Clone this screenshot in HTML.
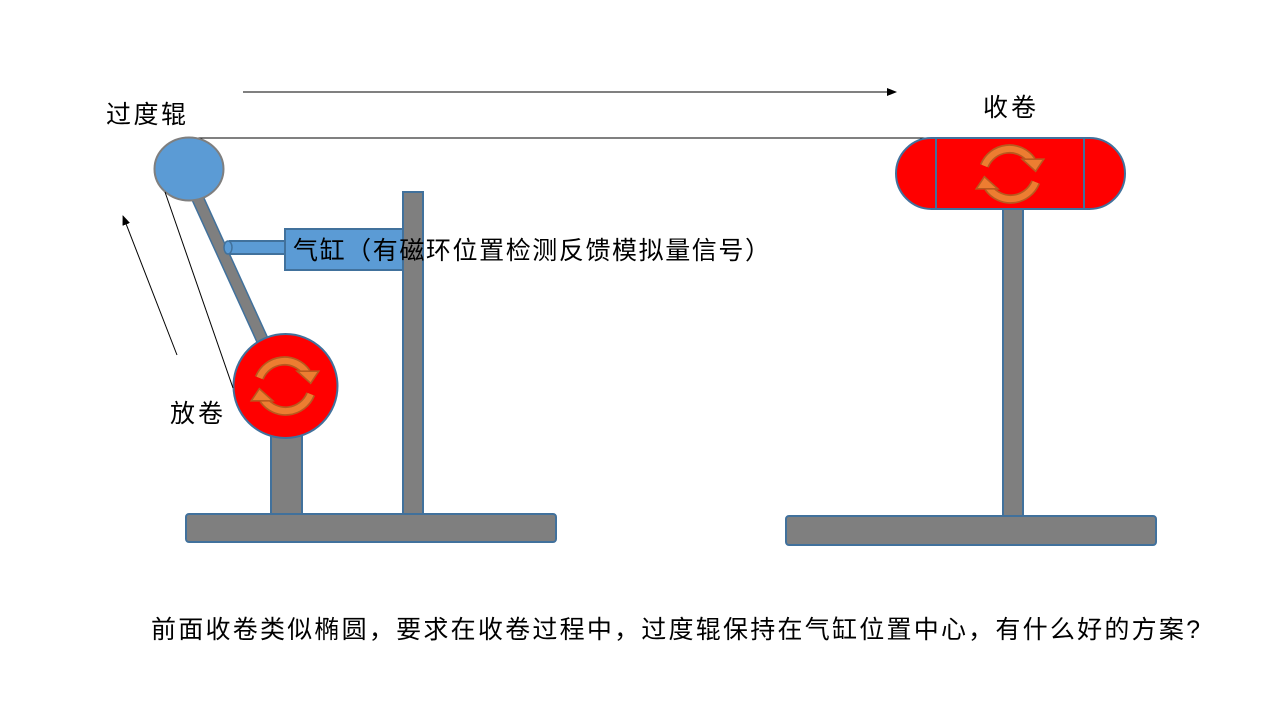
<!DOCTYPE html>
<html><head><meta charset="utf-8"><style>
html,body{margin:0;padding:0;background:#fff;}
svg{display:block;}
text{font-family:"Liberation Sans","Noto Sans CJK SC",sans-serif;font-size:25px;fill:#000;}
</style></head><body>
<svg width="1287" height="718" viewBox="0 0 1287 718" xmlns="http://www.w3.org/2000/svg">
<defs>
<marker id="ah" markerWidth="10" markerHeight="8" refX="9" refY="4" orient="auto" markerUnits="userSpaceOnUse">
<path d="M0,0 L10,4 L0,8 Z" fill="#000"/></marker>
<g id="cyc">
<path d="M-19,-6 A20,20 0 0 1 16,-10" fill="none" stroke="#b85a1f" stroke-width="7"/>
<path d="M-19,-6 A20,20 0 0 1 16,-10" fill="none" stroke="#ed7d31" stroke-width="4.5"/>
<path d="M9,-11 L25,-11 L19,-2 Z" fill="#ed7d31" stroke="#b85a1f" stroke-width="1.2"/>
<path d="M19,6 A20,20 0 0 1 -16,10" fill="none" stroke="#b85a1f" stroke-width="7"/>
<path d="M19,6 A20,20 0 0 1 -16,10" fill="none" stroke="#ed7d31" stroke-width="4.5"/>
<path d="M-9,11 L-25,11 L-19,2 Z" fill="#ed7d31" stroke="#b85a1f" stroke-width="1.2"/>
</g>
</defs>

<line x1="243" y1="92" x2="896" y2="92" stroke="#000" stroke-width="1" marker-end="url(#ah)"/>
<line x1="189" y1="138" x2="936" y2="138" stroke="#000" stroke-width="1"/>

<text x="106" y="123" textLength="80">过度辊</text>
<text x="983" y="116" textLength="53">收卷</text>

<line x1="193" y1="188" x2="266" y2="348" stroke="#41719c" stroke-width="13"/>
<line x1="193" y1="188" x2="266" y2="348" stroke="#7f7f7f" stroke-width="10"/>

<rect x="271" y="430" width="31" height="86" fill="#7f7f7f" stroke="#41719c" stroke-width="2"/>
<rect x="403" y="192" width="20" height="323" fill="#7f7f7f" stroke="#41719c" stroke-width="2"/>
<rect x="186" y="514" width="370" height="28" rx="3" fill="#7f7f7f" stroke="#41719c" stroke-width="2"/>

<rect x="230" y="241" width="56" height="13" fill="#5b9bd5" stroke="#41719c" stroke-width="2"/>
<ellipse cx="228" cy="247.5" rx="4" ry="6.5" fill="#5b9bd5" stroke="#41719c" stroke-width="1.5"/>
<rect x="285" y="229" width="118" height="41" fill="#5b9bd5" stroke="#41719c" stroke-width="2"/>
<text x="293" y="259" textLength="477">气缸（有磁环位置检测反馈模拟量信号）</text>

<ellipse cx="189" cy="169" rx="34.5" ry="31.5" fill="#5b9bd5" stroke="#7f7f7f" stroke-width="2"/>

<circle cx="285.5" cy="386" r="52" fill="#ff0000" stroke="#41719c" stroke-width="2"/>
<g transform="translate(285,386) scale(1.35)"><use href="#cyc"/></g>

<line x1="165" y1="192" x2="233" y2="388" stroke="#000" stroke-width="1"/>
<line x1="177" y1="355" x2="123" y2="216" stroke="#000" stroke-width="1" marker-end="url(#ah)"/>

<text x="170" y="422" textLength="53">放卷</text>

<rect x="1003" y="205" width="20" height="312" fill="#7f7f7f" stroke="#41719c" stroke-width="2"/>
<rect x="786" y="516" width="370" height="29" rx="3" fill="#7f7f7f" stroke="#41719c" stroke-width="2"/>
<rect x="896" y="138" width="229" height="71" rx="35.5" fill="#ff0000" stroke="#41719c" stroke-width="2"/>
<line x1="936" y1="138" x2="936" y2="209" stroke="#41719c" stroke-width="2"/>
<line x1="1084" y1="138" x2="1084" y2="209" stroke="#41719c" stroke-width="2"/>
<g transform="translate(1010,174) scale(1.35)"><use href="#cyc"/></g>

<text x="151" y="638" textLength="1049">前面收卷类似椭圆，要求在收卷过程中，过度辊保持在气缸位置中心，有什么好的方案?</text>
</svg>
</body></html>
